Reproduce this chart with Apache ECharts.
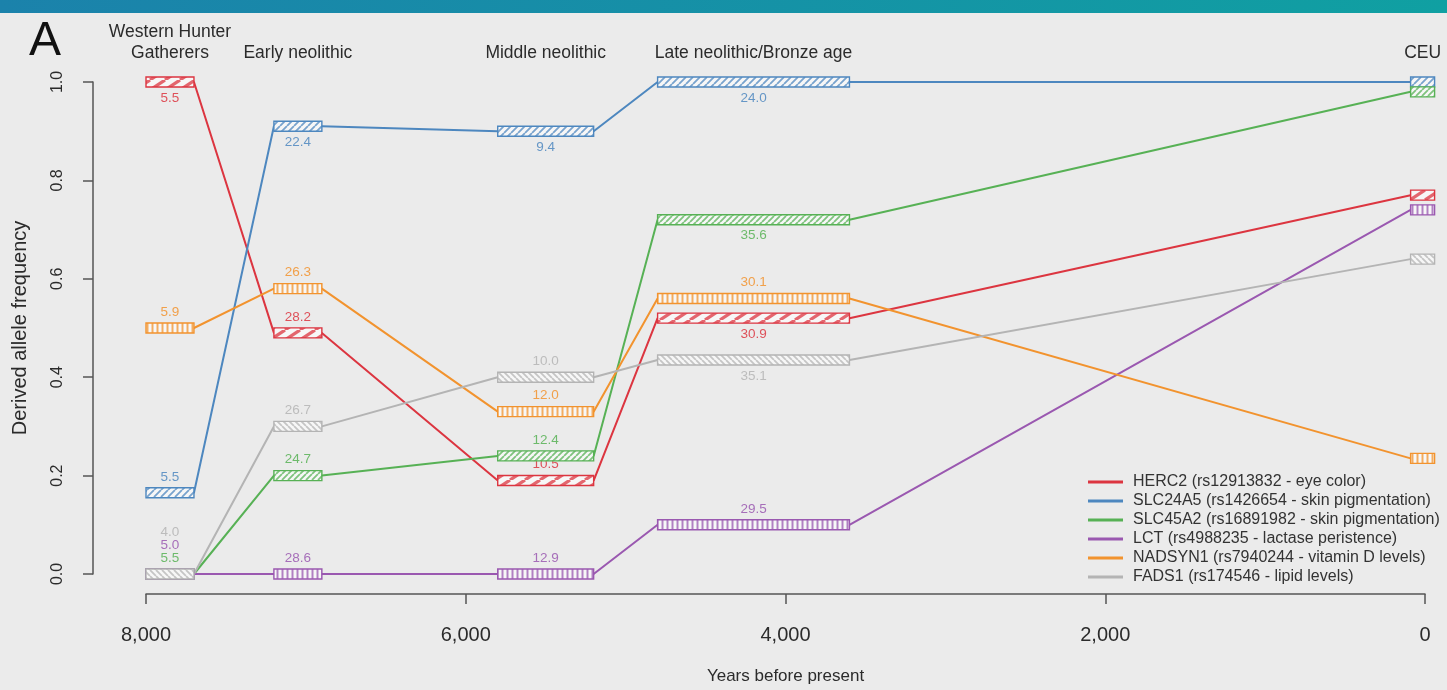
<!DOCTYPE html>
<html>
<head>
<meta charset="utf-8">
<title>Derived allele frequency through time</title>
<script src="https://cdn.jsdelivr.net/npm/echarts@6/dist/echarts.min.js"></script>
<style>
  html, body { margin: 0; padding: 0; background: #ebebeb; overflow: hidden; }
  #chart { width: 1447px; height: 690px; }
</style>
</head>
<body>
<div id="chart"></div>
<script>
// ---- data -------------------------------------------------------------
const periodNames = ['Western Hunter\nGatherers', 'Early neolithic', 'Middle neolithic', 'Late neolithic/Bronze age', 'CEU'];
const periodStart = [8000, 7200, 5800, 4800, 90];   // years before present
const periodEnd   = [7700, 6900, 5200, 3600, -60];

const geneNames = [
  'HERC2 (rs12913832 - eye color)',
  'SLC24A5 (rs1426654 - skin pigmentation)',
  'SLC45A2 (rs16891982 - skin pigmentation)',
  'LCT (rs4988235 - lactase peristence)',
  'NADSYN1 (rs7940244 - vitamin D levels)',
  'FADS1 (rs174546 - lipid levels)'
];

// derived allele frequency per period
const herc2Freq   = [1.00, 0.49, 0.19, 0.52, 0.77];
const slc24a5Freq = [0.165, 0.91, 0.90, 1.00, 1.00];
const slc45a2Freq = [0.00, 0.20, 0.24, 0.72, 0.98];
const lctFreq     = [0.00, 0.00, 0.00, 0.10, 0.74];
const nadsyn1Freq = [0.50, 0.58, 0.33, 0.56, 0.235];
const fads1Freq   = [0.00, 0.30, 0.40, 0.435, 0.64];

// sample numbers printed next to each ancient period box
const herc2N   = [5.5, 28.2, 10.5, 30.9, null];
const slc24a5N = [5.5, 22.4, 9.4, 24.0, null];
const slc45a2N = [5.5, 24.7, 12.4, 35.6, null];
const lctN     = [5.0, 28.6, 12.9, 29.5, null];
const nadsyn1N = [5.9, 26.3, 12.0, 30.1, null];
const fads1N   = [4.0, 26.7, 10.0, 35.1, null];

const xTicks = [8000, 6000, 4000, 2000, 0];
const yTicks = [0, 0.2, 0.4, 0.6, 0.8, 1.0];

// ---- styling ----------------------------------------------------------
const freqs = [herc2Freq, slc24a5Freq, slc45a2Freq, lctFreq, nadsyn1Freq, fads1Freq];
const counts = [herc2N, slc24a5N, slc45a2N, lctN, nadsyn1N, fads1N];
const colors = ['#dc3540', '#4d87bf', '#57b155', '#9a58b0', '#f2932e', '#b4b4b4'];
// label side per gene / period: 1 = above the box, -1 = below
const labelSide = [
  [-1, 1, 1, -1],
  [1, -1, -1, -1],
  [1, 1, 1, -1],
  [1, 1, 1, 1],
  [1, 1, 1, 1],
  [1, 1, 1, -1]
];
// hatching of each gene's boxes: [direction, tile width, tile height, line width]
const hatchSpec = [
  ['/', 15, 10, 3.2],
  ['/', 7, 7, 1.8],
  ['/', 6, 6, 1.8],
  ['|', 5, 5, 2],
  ['|', 5, 5, 2],
  ['\\', 6, 6, 1.8]
];
const FONT = '"Liberation Sans", Arial, Helvetica, sans-serif';

function fontInstalled(name) {
  const ctx = document.createElement('canvas').getContext('2d');
  const s = 'Years before present 8,000';
  ctx.font = '40px monospace';
  const a = ctx.measureText(s).width;
  ctx.font = '40px "' + name + '", monospace';
  return ctx.measureText(s).width !== a;
}
// condensed face for the time axis
const HAS_NARROW = fontInstalled('Liberation Sans Narrow');
const XFONT = HAS_NARROW ? '"Liberation Sans Narrow", "Liberation Sans", sans-serif' : FONT;
const X_TICK_SIZE = HAS_NARROW ? 23 : 20;
const X_NAME_SIZE = HAS_NARROW ? 20.5 : 17;

function hatchPattern(color, spec) {
  const [dir, w, h, lw] = spec;
  const c = document.createElement('canvas');
  c.width = w; c.height = h;
  const g = c.getContext('2d');
  g.fillStyle = '#f7f7f7';
  g.fillRect(0, 0, w, h);
  g.strokeStyle = color;
  g.globalAlpha = 0.75;
  g.lineWidth = lw;
  g.beginPath();
  if (dir === '|') {
    g.moveTo(w / 2, 0); g.lineTo(w / 2, h);
  } else if (dir === '/') {
    for (const dx of [-w, 0, w]) { g.moveTo(dx, h); g.lineTo(dx + w, 0); }
  } else {
    for (const dx of [-w, 0, w]) { g.moveTo(dx, 0); g.lineTo(dx + w, h); }
  }
  g.stroke();
  return c;
}

// stack level of a label when several genes share the same box position
function labelLevel(gi, pi) {
  let level = 0;
  for (let k = 0; k < gi; k++) {
    if (counts[k][pi] != null && freqs[k][pi] === freqs[gi][pi] && labelSide[k][pi] === labelSide[gi][pi]) level++;
  }
  return level;
}

// connecting path: along each box, then straight to the next box
function pathData(vals) {
  const pts = [];
  vals.forEach((v, i) => {
    pts.push([periodStart[i], v]);
    if (i < vals.length - 1) pts.push([periodEnd[i], v]);
  });
  return pts;
}

const series = [];
geneNames.forEach((name, gi) => {
  series.push({
    type: 'line',
    name: name,
    data: pathData(freqs[gi]),
    symbol: 'none',
    color: colors[gi],
    lineStyle: { color: colors[gi], width: 2 },
    z: 2,
    silent: true
  });
});

geneNames.forEach((name, gi) => {
  const pattern = { image: hatchPattern(colors[gi], hatchSpec[gi]), repeat: 'repeat' };
  series.push({
    type: 'custom',
    name: name,
    color: colors[gi],
    z: 3 + gi,
    silent: true,
    clip: false,
    data: freqs[gi].map((v, pi) => [periodStart[pi], periodEnd[pi], v, pi]),
    renderItem(params, api) {
      const x0 = api.value(0), x1 = api.value(1), v = api.value(2), pi = api.value(3);
      const p0 = api.coord([x0, v]);
      const p1 = api.coord([x1, v]);
      const boxH = 10;
      const children = [{
        type: 'rect',
        shape: { x: p0[0], y: p0[1] - boxH / 2, width: p1[0] - p0[0], height: boxH },
        style: { fill: pattern, stroke: colors[gi], lineWidth: 1.4 }
      }];
      const n = counts[gi][pi];
      if (n != null) {
        const side = labelSide[gi][pi];
        const off = 16 + 13 * labelLevel(gi, pi);
        children.push({
          type: 'text',
          style: {
            text: n.toFixed(1),
            x: (p0[0] + p1[0]) / 2,
            y: p0[1] - side * off,
            align: 'center',
            verticalAlign: 'middle',
            fill: colors[gi],
            opacity: 0.85,
            font: '13.5px ' + FONT
          }
        });
      }
      return { type: 'group', children };
    }
  });
});

// period names above the plotting region
series.push({
  type: 'custom',
  name: 'periods',
  silent: true,
  clip: false,
  data: periodNames.map((p, i) => [(periodStart[i] + periodEnd[i]) / 2, i]),
  renderItem(params, api) {
    const pt = api.coord([api.value(0), 1]);
    return {
      type: 'text',
      style: {
        text: periodNames[api.value(1)],
        x: pt[0],
        y: pt[1] - 18,
        align: 'center',
        verticalAlign: 'bottom',
        lineHeight: 21,
        fill: '#2b2b2b',
        font: '17.5px ' + FONT
      }
    };
  }
});

const chart = echarts.init(document.getElementById('chart'), null, { renderer: 'canvas', width: 1447, height: 690 });
chart.setOption({
  animation: false,
  backgroundColor: '#ebebeb',
  textStyle: { fontFamily: FONT },
  grid: { left: 146, top: 82, width: 1279, height: 495, containLabel: false },
  graphic: [
    {
      type: 'rect', left: 0, top: 0, silent: true,
      shape: { width: 1447, height: 13 },
      style: {
        fill: new echarts.graphic.LinearGradient(0, 0, 1, 0, [
          { offset: 0, color: '#1b82ab' },
          { offset: 1, color: '#10a0a2' }
        ])
      }
    },
    {
      type: 'text', left: 29, top: 18, silent: true,
      style: { text: 'A', font: '48px ' + FONT, fill: '#111' }
    }
  ],
  legend: {
    data: geneNames,
    orient: 'vertical',
    left: 1083,
    top: 469,
    icon: 'rect',
    itemWidth: 35,
    itemHeight: 3,
    itemGap: 3,
    selectedMode: false,
    textStyle: { fontSize: 16, lineHeight: 16, color: '#333', fontFamily: FONT, padding: [0, 0, 0, 5] }
  },
  xAxis: {
    type: 'value',
    inverse: true,
    min: 0,
    max: 8000,
    interval: 2000,
    offset: 20,
    name: 'Years before present',
    nameLocation: 'middle',
    nameGap: 74,
    nameTextStyle: { fontSize: X_NAME_SIZE, color: '#2b2b2b', fontFamily: XFONT },
    axisLine: { show: true, onZero: false, lineStyle: { color: '#555', width: 1.5 } },
    axisTick: { show: true, length: 10, lineStyle: { color: '#555', width: 1.5 } },
    axisLabel: {
      fontSize: X_TICK_SIZE, color: '#2b2b2b', margin: 31, fontFamily: XFONT,
      customValues: xTicks,
      formatter: v => v.toLocaleString('en-US')
    },
    splitLine: { show: false }
  },
  yAxis: {
    type: 'value',
    min: 0,
    max: 1,
    interval: 0.2,
    offset: 53,
    name: 'Derived allele frequency',
    nameLocation: 'middle',
    nameGap: 63,
    nameTextStyle: { fontSize: 20, color: '#2b2b2b' },
    axisLine: { show: true, onZero: false, lineStyle: { color: '#555', width: 1.5 } },
    axisTick: { show: true, length: 10, lineStyle: { color: '#555', width: 1.5 } },
    axisLabel: {
      fontSize: 16, color: '#2b2b2b', margin: 27, rotate: 90,
      customValues: yTicks,
      formatter: v => v.toFixed(1)
    },
    splitLine: { show: false }
  },
  series: series
});
</script>
</body>
</html>
